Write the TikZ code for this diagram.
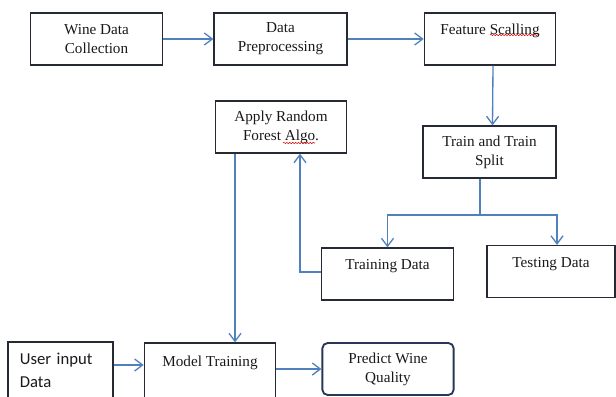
\documentclass[tikz,border=0pt]{standalone}
\usepackage{fontspec}
\setmainfont{Liberation Serif}
\newfontfamily\calib{Carlito}
\usetikzlibrary{arrows.meta,decorations.pathmorphing}
\definecolor{arrblue}{RGB}{79,129,189}
\definecolor{boxline}{RGB}{38,42,52}
\definecolor{navy}{RGB}{40,55,85}
\begin{document}
\begin{tikzpicture}[x=0.75pt,y=-0.75pt,
  box/.style={draw=boxline,line width=0.9pt,minimum width=98.5pt,minimum height=39pt,
    align=center,inner sep=2pt,font=\fontsize{11.4}{14.3}\selectfont,text=black!90},
  arr/.style={draw=arrblue,line width=1pt,-{Straight Barb[length=6pt,width=9pt]}},
  ln/.style={draw=arrblue,line width=1pt},
  squig/.style={draw=red!85!black,line width=0.4pt,decorate,decoration={snake,segment length=2.2pt,amplitude=0.5pt}}]
\useasboundingbox (0,0) rectangle (616,396);
\clip (0,0) rectangle (616,396);
\node[box] (wdc) at (96.5,39) {Wine Data\\Collection};
\node[box,minimum width=99.75pt] (dp) at (280.5,39) {Data\\Preprocessing};
\node[box] (fs) at (490,39) {Feature Scalling\\\mbox{}};
\node[box] (arf) at (281,127) {Apply Random\\Forest Algo.};
\node[box,minimum width=99.75pt] (tts) at (489.5,152) {Train and Train\\Split};
\node[box] (trd) at (387.5,274) {Training Data\\\mbox{}};
\node[box,minimum width=96pt] (ted) at (551,271.5) {Testing Data\\\mbox{}};
\node[box,minimum width=78.75pt,minimum height=42pt,align=left,text width=61pt,
  font=\calib\fontsize{12.5}{17.25}\selectfont] (uid) at (60.5,370) {User input\\Data};
\node[box,minimum height=42pt] (mt) at (210,371) {Model Training\\\mbox{}};
\node[box,draw=navy,line width=1.4pt,rounded corners=4pt] (pwq) at (388,369) {Predict Wine\\Quality};
\draw[squig] (490,35) -- (538,35);
\draw[squig] (283,143) -- (315,143);
\draw[arr] (wdc.east) -- (dp.west);
\draw[arr] (dp.east) -- (fs.west);
\draw[arr] ([xshift=2.25pt]fs.south) -- ([xshift=2.25pt]tts.north);
\coordinate (sp) at (480,215);
\draw[ln] (tts.south -| sp) -- (sp);
\draw[arr] (sp) -| (trd.north);
\draw[arr] (sp) -| ([xshift=4.5pt]ted.north);
\draw[arr] ([yshift=1.5pt]trd.west) -| ([xshift=14.25pt]arf.south);
\draw[arr] ([xshift=-34.5pt]arf.south) coordinate (a1) -- (a1 |- mt.north);
\draw[arr] (uid.east |- 0,365) -- (mt.west |- 0,365);
\draw[arr] (mt.east |- 0,369) -- (pwq.west |- 0,369);
\end{tikzpicture}
\end{document}
